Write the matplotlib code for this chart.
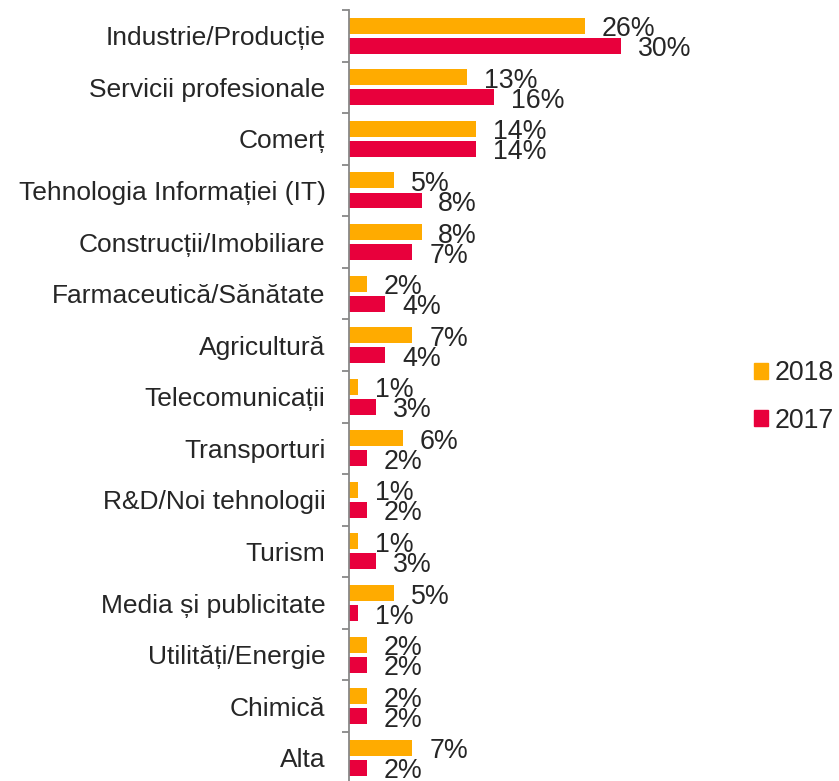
import matplotlib
matplotlib.use("Agg")
import matplotlib.pyplot as plt
import numpy as np
from matplotlib.patches import Patch

categories = ["Industrie/Producție", "Servicii profesionale", "Comerț",
              "Tehnologia Informației (IT)", "Construcții/Imobiliare",
              "Farmaceutică/Sănătate", "Agricultură", "Telecomunicații",
              "Transporturi", "R&D/Noi tehnologii", "Turism",
              "Media și publicitate", "Utilități/Energie", "Chimică", "Alta"]
v2018 = [26, 13, 14, 5, 8, 2, 7, 1, 6, 1, 1, 5, 2, 2, 7]
v2017 = [30, 16, 14, 8, 7, 4, 4, 3, 2, 2, 3, 1, 2, 2, 2]
series_names = ["2018", "2017"]

plt.rcParams['font.family'] = ['Liberation Sans', 'DejaVu Sans']
c2018 = "#FFAB00"
c2017 = "#E8003C"
tcol = "#262626"
fs = 19.3

W, H = 839, 781
fig = plt.figure(figsize=(W/100, H/100), dpi=100)
x0, x1 = 349, 349 + 33*9.07
ytop, ybot = 10, 10 + 15*51.57
ax = fig.add_axes([x0/W, (H-ybot)/H, (x1-x0)/W, (ybot-ytop)/H])

n = len(categories)
y = np.arange(n)
h = 0.31
off = 0.194
ax.barh(y - off, v2018, height=h, color=c2018)
ax.barh(y + off, v2017, height=h, color=c2017)
for yi, a, b in zip(y, v2018, v2017):
    ax.annotate(f"{a}%", (a, yi - off), xytext=(12, -2.5), textcoords="offset points",
                va="center", ha="left", fontsize=fs, color=tcol, annotation_clip=False)
    ax.annotate(f"{b}%", (b, yi + off), xytext=(12, -2.5), textcoords="offset points",
                va="center", ha="left", fontsize=fs, color=tcol, annotation_clip=False)

ax.set_ylim(n - 0.5, -0.5)
ax.set_xlim(0, 33)
ax.set_yticks(y)
ax.set_yticklabels(categories, fontsize=19, color=tcol)
ax.tick_params(axis='y', which='major', length=0, pad=17)
ax.set_yticks(np.arange(-0.5, n, 1), minor=True)
ax.tick_params(axis='y', which='minor', length=5, color="#888888", width=1.3)
ax.set_xticks([])
for s in ["top", "right", "bottom"]:
    ax.spines[s].set_visible(False)
ax.spines["left"].set_color("#888888")
ax.spines["left"].set_linewidth(1.3)

handles = [Patch(color=c2018, label=series_names[0]), Patch(color=c2017, label=series_names[1])]
fig.legend(handles=handles, loc="center left", bbox_to_anchor=(754/W, 1 - 397/H),
           frameon=False, fontsize=fs, handlelength=0.53, handleheight=0.53,
           handletextpad=0.25, labelspacing=0.8, labelcolor=tcol,
           borderpad=0, borderaxespad=0)

fig.savefig("out.png", dpi=100)
